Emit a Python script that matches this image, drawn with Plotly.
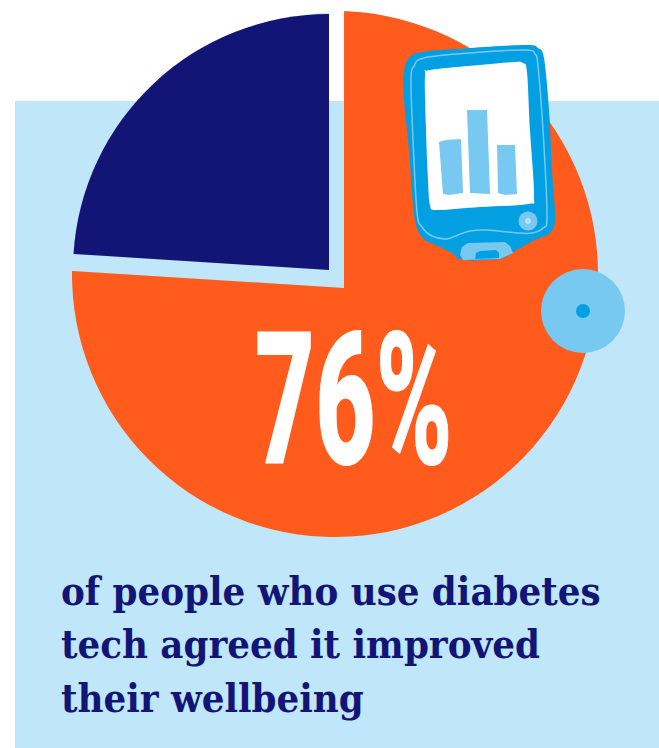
import plotly.graph_objects as go

W, H = 659, 748

# Data
slice_labels = ["Improved wellbeing", "Other responses"]
slice_values = [76, 24]
headline = "76%"
caption_lines = [
    "of people who use diabetes",
    "tech agreed it improved",
    "their wellbeing",
]

# Palette
ORANGE = "#FF5B1C"
NAVY = "#131576"
PANEL = "#BFE6F9"
DEVICE = "#039FE3"
SKY = "#77C9F1"
PALE = "#B8E3F7"
NONE = "rgba(0,0,0,0)"


def pie(cx, cy, r, colors):
    """One pie layer centred on a pixel position with a pixel radius."""
    return go.Pie(
        labels=slice_labels,
        values=slice_values,
        sort=False,
        direction="clockwise",
        rotation=0,
        textinfo="none",
        hoverinfo="skip",
        showlegend=False,
        marker=dict(colors=colors, line=dict(width=0)),
        domain=dict(
            x=[(cx - r) / W, (cx + r) / W],
            y=[1 - (cy + r) / H, 1 - (cy - r) / H],
        ),
    )


fig = go.Figure()
# The large share, then the channel that separates the slices, then the small share.
fig.add_trace(pie(335, 274, 263, [ORANGE, NONE]))
fig.add_trace(pie(344, 288, 276, [NONE, PANEL]))
fig.add_trace(pie(329, 270, 256, [NONE, NAVY]))


def smooth_path(p):
    """Closed Catmull-Rom curve through the given outline points."""
    n = len(p)
    d = f"M{p[0][0]},{p[0][1]}"
    for i in range(n):
        p0, p1, p2, p3 = p[i - 1], p[i], p[(i + 1) % n], p[(i + 2) % n]
        c1 = (p1[0] + (p2[0] - p0[0]) / 6, p1[1] + (p2[1] - p0[1]) / 6)
        c2 = (p2[0] - (p3[0] - p1[0]) / 6, p2[1] - (p3[1] - p1[1]) / 6)
        d += f" C{c1[0]:.1f},{c1[1]:.1f} {c2[0]:.1f},{c2[1]:.1f} {p2[0]},{p2[1]}"
    return d + " Z"


def outline(points, fill=None, line=None, width=0, smooth=True):
    d = smooth_path(points) if smooth else "M" + " L".join(f"{x},{y}" for x, y in points) + " Z"
    return dict(
        type="path", path=d, xref="x", yref="y", layer="above",
        fillcolor=fill or NONE,
        line=dict(color=line or NONE, width=width),
    )


def disc(cx, cy, r, fill):
    return dict(
        type="circle", xref="x", yref="y", layer="above",
        x0=cx - r, x1=cx + r, y0=cy - r, y1=cy + r,
        fillcolor=fill, line=dict(width=0),
    )


shapes = [
    # Background panel
    dict(type="rect", xref="x", yref="y", layer="below", x0=15, x1=W, y0=101, y1=H,
         fillcolor=PANEL, line=dict(width=0)),
    # Channel stays white above the panel
    dict(type="rect", xref="x", yref="y", layer="above", x0=329, x1=344, y0=0, y1=101,
         fillcolor="white", line=dict(width=0)),
    # Sensor on the rim
    disc(583, 311, 42, SKY),
    disc(583, 311, 7, DEVICE),
    # Handheld meter body
    outline([(404, 72), (409, 58), (422, 52), (470, 48), (526, 45), (538, 48), (544, 58),
             (549, 110), (552, 170), (555, 218), (550, 233), (535, 240), (513, 252),
             (500, 259), (463, 260), (452, 253), (438, 246), (425, 240), (417, 228),
             (413, 205), (409, 150), (404, 100)],
            fill=DEVICE),
    # Highlight line following the body
    outline([(411, 80), (414, 66), (424, 58), (470, 53), (525, 50), (535, 54), (538, 66),
             (543, 130), (547, 215), (543, 228), (532, 233), (517, 233), (487, 230),
             (470, 231), (458, 235), (447, 239), (432, 236), (422, 227), (417, 212),
             (413, 140)],
            line=SKY, width=1.5),
    # Screen
    outline([(425, 76), (430, 70), (480, 65), (514, 62), (523, 63), (527, 72), (530, 130),
             (534, 195), (528, 204), (480, 207), (437, 210), (430, 205), (428, 180), (426, 130)],
            fill="white"),
    # Screen bars
    outline([(439, 142), (446, 140), (461, 139), (463, 193), (449, 195), (443, 194)],
            fill=SKY, smooth=False),
    outline([(467, 110), (487, 110), (490, 194), (470, 193)], fill=SKY, smooth=False),
    outline([(497, 145), (515, 145), (517, 194), (505, 195), (498, 193)], fill=SKY, smooth=False),
    # Button
    disc(528, 221, 9.5, SKY),
    disc(528, 221, 3, PALE),
    # Strip port
    outline([(460, 255), (462, 247), (468, 243), (505, 242), (510, 246), (513, 253),
             (500, 259), (463, 260)], fill=SKY, smooth=False),
    outline([(475, 259), (476, 253), (480, 251), (496, 250), (499, 253), (499, 258)],
            fill=DEVICE, smooth=False),
]

annotations = [
    dict(text=headline, x=354, y=400, xref="x", yref="y",
         xanchor="center", yanchor="middle", showarrow=False,
         font=dict(family="Roboto", size=186, color="white", weight=900)),
]
caption_baselines = [591, 644, 698]
for line, y in zip(caption_lines, caption_baselines):
    annotations.append(
        dict(text=f"<b>{line}</b>", x=59, y=y, xref="x", yref="y",
             xanchor="left", yanchor="middle", showarrow=False,
             font=dict(family="DejaVu Serif Condensed", size=39.7, color=NAVY))
    )

fig.update_layout(
    width=W, height=H, autosize=False,
    margin=dict(l=0, r=0, t=0, b=0),
    paper_bgcolor="white", plot_bgcolor="white",
    xaxis=dict(range=[0, W], visible=False, fixedrange=True),
    yaxis=dict(range=[H, 0], visible=False, fixedrange=True),
    shapes=shapes, annotations=annotations,
)

# Narrow the headline numerals to a tall poster proportion.
condense = """
var t = document.querySelectorAll('.annotation-text')[0];
var b = t.getBBox();
var cx = b.x + b.width / 2;
var s = 198 / b.width;
t.setAttribute('transform', 'translate(' + cx + ',0) scale(' + s + ',1) translate(' + (-cx) + ',0)');
"""
fig.write_html("out.html", post_script=condense, config=dict(displayModeBar=False))
